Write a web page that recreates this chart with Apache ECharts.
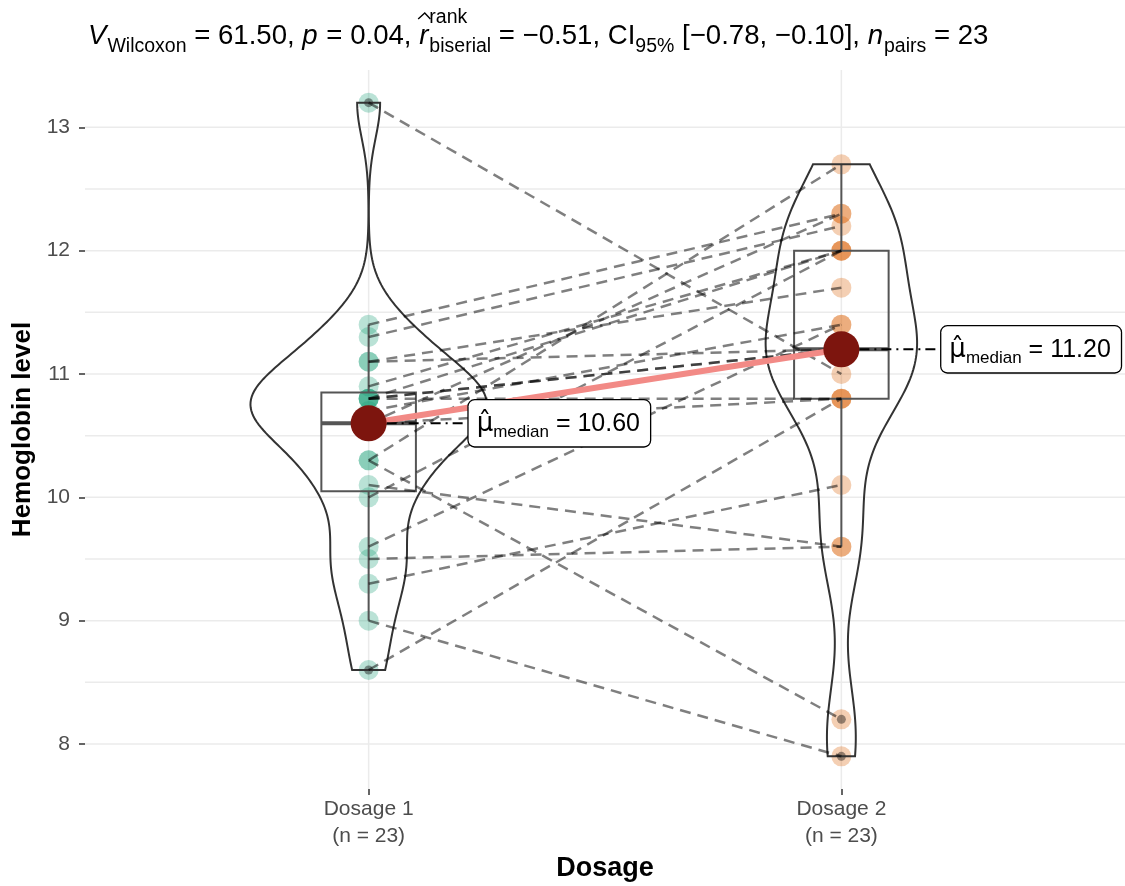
<!DOCTYPE html>
<html>
<head>
<meta charset="utf-8">
<script src="https://cdn.jsdelivr.net/npm/echarts@6/dist/echarts.min.js"></script>
<style>
  html, body { margin: 0; background: #fff; }
  #chart { width: 1125px; height: 886px; }
</style>
</head>
<body>
<div id="chart"></div>
<script>
// paired measurements: index i is the same subject in both arrays
const groups = ['Dosage 1', 'Dosage 2']
const dosage1 = [8.6, 9.0, 9.3, 9.5, 9.6, 10.3, 10.1, 13.2, 10.0, 10.3, 10.6, 10.6, 10.6, 10.7, 10.8, 10.8, 10.8, 10.8, 10.9, 11.1, 11.1, 11.3, 11.4]
const dosage2 = [10.8, 7.9, 10.1, 9.6, 11.4, 8.2, 9.6, 11.0, 12.0, 12.7, 12.3, 11.2, 10.8, 11.4, 12.0, 11.2, 10.8, 11.2, 12.0, 11.7, 11.2, 12.2, 12.3]
const yTicks = [8, 9, 10, 11, 12, 13]
const yGrid = [8, 8.5, 9, 9.5, 10, 10.5, 11, 11.5, 12, 12.5, 13]
const xTicks = [1, 2]
const groupColors = ['rgba(27,158,119,0.3)', 'rgba(217,95,2,0.3)']

const FONT = '"Liberation Sans", Arial, Helvetica, sans-serif'
const all = [dosage1, dosage2]

// --- summary statistics (ggplot style) ---
function quantile(sorted, p) {
  const h = (sorted.length - 1) * p
  const lo = Math.floor(h)
  const hi = Math.min(lo + 1, sorted.length - 1)
  return sorted[lo] + (h - lo) * (sorted[hi] - sorted[lo])
}
function sd(v) {
  const m = v.reduce((a, b) => a + b, 0) / v.length
  return Math.sqrt(v.reduce((a, b) => a + (b - m) * (b - m), 0) / (v.length - 1))
}
const boxStats = all.map(v => {
  const s = [...v].sort((a, b) => a - b)
  const q1 = quantile(s, 0.25), med = quantile(s, 0.5), q3 = quantile(s, 0.75)
  const iqr = q3 - q1
  const inside = s.filter(x => x >= q1 - 1.5 * iqr && x <= q3 + 1.5 * iqr)
  const out = s.filter(x => x < q1 - 1.5 * iqr || x > q3 + 1.5 * iqr)
  return { q1, med, q3, lo: inside[0], hi: inside[inside.length - 1], out, iqr, s }
})

// violin: gaussian kde, nrd0 bandwidth, trimmed, scale = "area"
const violins = all.map((v, g) => {
  const st = boxStats[g]
  const bw = 0.9 * Math.min(sd(v), st.iqr / 1.34) * Math.pow(v.length, -0.2)
  const n = 200
  const lo = st.s[0], hi = st.s[st.s.length - 1]
  const pts = []
  for (let i = 0; i < n; i++) {
    const y = lo + (hi - lo) * i / (n - 1)
    let d = 0
    v.forEach(x => { const z = (y - x) / bw; d += Math.exp(-0.5 * z * z) })
    pts.push({ y, d: d / (v.length * bw * Math.sqrt(2 * Math.PI)) })
  }
  return pts
})
const maxDens = Math.max(...violins.flat().map(p => p.d))

const chart = echarts.init(document.getElementById('chart'))

// title pieces with sub/superscripts, laid out by measured widths
const ctx = document.createElement('canvas').getContext('2d')
function tw(text, size, italic) {
  ctx.font = (italic ? 'italic ' : '') + size + 'px ' + FONT
  return ctx.measureText(text).width
}
const M = 27.6, S = 19.5
const MAIN_Y = 36, SUB_Y = 47, SUP_Y = 18
const titleParts = [
  { t: 'V', it: true }, { t: 'Wilcoxon', sub: true }, { t: ' = 61.50, ' },
  { t: 'p', it: true }, { t: ' = 0.04, ' },
  { t: 'r', it: true, hat: true }, { stack: ['rank', 'biserial'] }, { t: ' = \u22120.51, CI' },
  { t: '95%', sub: true }, { t: ' [\u22120.78, \u22120.10], ' },
  { t: 'n', it: true }, { t: 'pairs', sub: true }, { t: ' = 23' }
]
const titleEls = []
let tx = 88
titleParts.forEach(p => {
  if (p.stack) {
    titleEls.push({ type: 'text', x: tx, y: SUP_Y, style: { text: p.stack[0], font: S + 'px ' + FONT, fill: '#000', verticalAlign: 'middle' } })
    titleEls.push({ type: 'text', x: tx, y: SUB_Y, style: { text: p.stack[1], font: S + 'px ' + FONT, fill: '#000', verticalAlign: 'middle' } })
    tx += Math.max(tw(p.stack[0], S), tw(p.stack[1], S))
    return
  }
  const size = p.sub ? S : M
  const w = tw(p.t, size, p.it)
  titleEls.push({
    type: 'text', x: tx, y: p.sub ? SUB_Y : MAIN_Y,
    style: { text: p.t, font: (p.it ? 'italic ' : '') + size + 'px ' + FONT, fill: '#000', verticalAlign: 'middle' }
  })
  if (p.hat) {
    // wide hat drawn as a small chevron above the letter
    titleEls.push({
      type: 'polyline',
      shape: { points: [[tx - 1, MAIN_Y - 17], [tx + w / 2 + 1, MAIN_Y - 23], [tx + w + 2, MAIN_Y - 17]] },
      style: { stroke: '#000', lineWidth: 1.4, fill: 'none' }
    })
  }
  tx += w + (p.it ? 1 : 0)
})

const option = {
  animation: false,
  backgroundColor: '#fff',
  grid: { left: 85, right: 0, top: 70, bottom: 97, outerBoundsMode: 'none', containLabel: false },
  graphic: titleEls,
  xAxis: {
    type: 'value', min: 0.4, max: 2.6,
    axisLine: { show: false },
    splitLine: { show: false },
    axisTick: { show: true, customValues: xTicks, length: 6, lineStyle: { color: '#333', width: 1.5 } },
    axisLabel: {
      customValues: xTicks, margin: 7,
      formatter: v => groups[v - 1] + '\n(n = ' + all[v - 1].length + ')',
      color: '#4d4d4d', fontSize: 21, lineHeight: 27, fontFamily: FONT
    },
    name: 'Dosage', nameLocation: 'middle', nameGap: 61,
    nameTextStyle: { color: '#000', fontSize: 27, fontWeight: 'bold', fontFamily: FONT }
  },
  yAxis: {
    type: 'value', min: 7.635, max: 13.465,
    axisLine: { show: false },
    splitLine: { show: false },
    axisTick: { show: true, customValues: yTicks, length: 6, lineStyle: { color: '#333', width: 1.5 } },
    axisLabel: { customValues: yTicks, margin: 15, color: '#4d4d4d', fontSize: 21, fontFamily: FONT },
    name: 'Hemoglobin level', nameLocation: 'middle', nameGap: 46, nameRotate: 90,
    nameTextStyle: { color: '#000', fontSize: 26, fontWeight: 'bold', fontFamily: FONT }
  },
  series: [
    // panel grid lines
    {
      type: 'custom', z: 0, silent: true,
      data: yGrid.map(v => [1, v]),
      renderItem: (params, api) => {
        const cs = params.coordSys
        const y = api.coord([1, api.value(1)])[1]
        return { type: 'line', shape: { x1: cs.x, y1: y, x2: cs.x + cs.width, y2: y }, style: { stroke: '#ebebeb', lineWidth: 1.5 } }
      }
    },
    {
      type: 'custom', z: 0, silent: true,
      data: xTicks.map(v => [v, 10]),
      renderItem: (params, api) => {
        const cs = params.coordSys
        const x = api.coord([api.value(0), 10])[0]
        return { type: 'line', shape: { x1: x, y1: cs.y, x2: x, y2: cs.y + cs.height }, style: { stroke: '#ebebeb', lineWidth: 1.5 } }
      }
    },
    // raw points
    ...all.map((v, g) => ({
      type: 'scatter', z: 2, silent: true,
      data: v.map(y => [g + 1, y]),
      symbolSize: 20,
      itemStyle: { color: groupColors[g], opacity: 1 }
    })),
    // box plots
    {
      type: 'custom', z: 3, silent: true,
      data: boxStats.map((b, g) => [g + 1, b.q1, b.med, b.q3, b.lo, b.hi]),
      encode: { x: 0, y: [1, 4, 5] },
      renderItem: (params, api) => {
        const x = api.value(0)
        const [q1, med, q3, lo, hi] = [1, 2, 3, 4, 5].map(i => api.value(i))
        const tl = api.coord([x - 0.1, q3]), br = api.coord([x + 0.1, q1])
        const c = api.coord([x, 0])[0]
        const stroke = { stroke: '#555', lineWidth: 2, fill: 'none' }
        const m = api.coord([x, med])[1]
        return {
          type: 'group', children: [
            { type: 'line', shape: { x1: c, y1: api.coord([x, hi])[1], x2: c, y2: tl[1] }, style: stroke },
            { type: 'line', shape: { x1: c, y1: br[1], x2: c, y2: api.coord([x, lo])[1] }, style: stroke },
            { type: 'rect', shape: { x: tl[0], y: tl[1], width: br[0] - tl[0], height: br[1] - tl[1] }, style: stroke },
            { type: 'line', shape: { x1: tl[0], y1: m, x2: br[0], y2: m }, style: { stroke: '#555', lineWidth: 4 } }
          ]
        }
      }
    },
    // box plot outliers
    {
      type: 'scatter', z: 3, silent: true, symbolSize: 9,
      data: boxStats.flatMap((b, g) => b.out.map(y => [g + 1, y])),
      itemStyle: { color: 'rgba(0,0,0,0.4)', opacity: 1 }
    },
    // violins
    {
      type: 'custom', z: 4, silent: true,
      data: boxStats.map((b, g) => [g + 1, b.med]),
      renderItem: (params, api) => {
        const g = params.dataIndex
        const shape = violins[g]
        const pts = []
        shape.forEach(p => pts.push(api.coord([g + 1 + 0.25 * p.d / maxDens, p.y])))
        for (let i = shape.length - 1; i >= 0; i--) {
          const p = shape[i]
          pts.push(api.coord([g + 1 - 0.25 * p.d / maxDens, p.y]))
        }
        return { type: 'polygon', shape: { points: pts }, style: { fill: 'none', stroke: '#333', lineWidth: 2 } }
      }
    },
    // paired lines
    {
      type: 'custom', z: 5, silent: true,
      data: dosage1.map((v, i) => [1, v, 2, dosage2[i]]),
      encode: { x: [0, 2], y: [1, 3] },
      renderItem: (params, api) => {
        const a = api.coord([api.value(0), api.value(1)])
        const b = api.coord([api.value(2), api.value(3)])
        return { type: 'line', shape: { x1: a[0], y1: a[1], x2: b[0], y2: b[1] }, style: { stroke: 'rgba(0,0,0,0.5)', lineWidth: 2.5, lineDash: [11, 7] } }
      }
    },
    // median path
    {
      type: 'line', z: 6, silent: true, symbol: 'none',
      data: boxStats.map((b, g) => [g + 1, b.med]),
      lineStyle: { color: '#f28a86', width: 6, opacity: 1 }
    },
    // median points with labels
    {
      type: 'scatter', z: 7, silent: true, symbolSize: 36,
      data: boxStats.map((b, g) => [g + 1, b.med]),
      itemStyle: { color: '#7d150e', opacity: 1 },
      label: {
        show: true, position: 'right', distance: 0,
        formatter: p => '{mu|\u03bc\u0302}{sub|median}{n| = ' + p.value[1].toFixed(2) + '}',
        backgroundColor: '#fff', borderColor: '#000', borderWidth: 1.3, borderRadius: 6,
        padding: [8, 10, 6, 8],
        rich: {
          mu: { fontSize: 26, fontFamily: '"DejaVu Sans", ' + FONT, color: '#000', lineHeight: 32 },
          sub: { fontSize: 17, fontFamily: FONT, color: '#000', verticalAlign: 'bottom', lineHeight: 20 },
          n: { fontSize: 25, fontFamily: FONT, color: '#000', lineHeight: 32 }
        }
      },
      labelLayout: { dx: 82 },
      labelLine: { show: true, lineStyle: { color: '#000', width: 2, type: [10, 5, 2, 5] } }
    }
  ]
}

chart.setOption(option)
</script>
</body>
</html>
